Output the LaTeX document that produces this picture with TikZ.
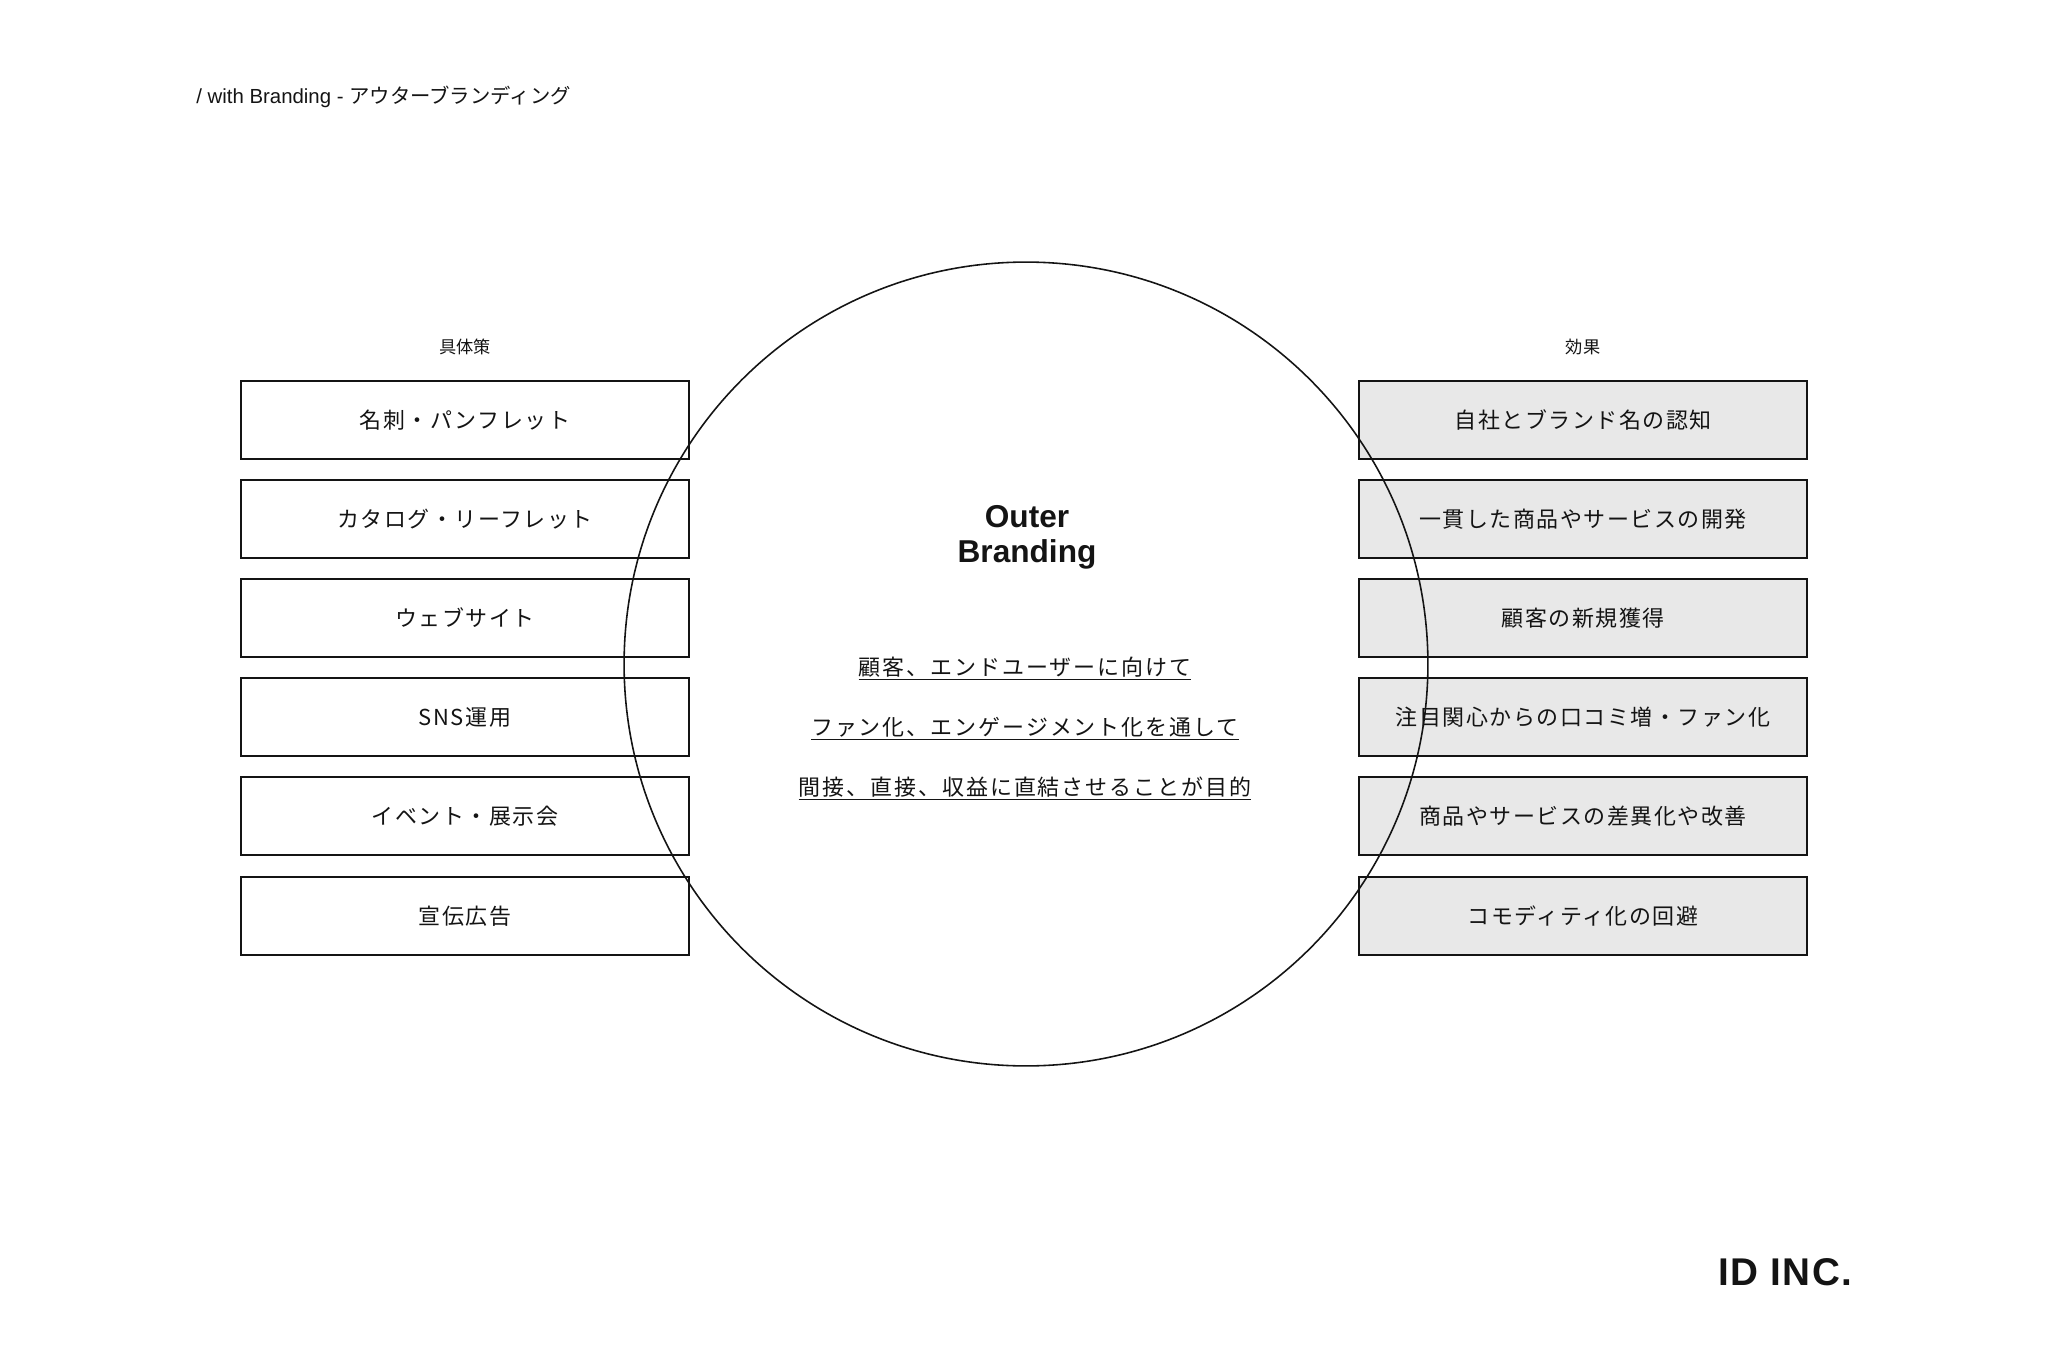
\documentclass[tikz,border=0pt]{standalone}
\usepackage{fontspec}
\usepackage{tikz}
\setmainfont{Noto Sans CJK JP}
\newfontfamily\jpfont[LetterSpace=7]{Noto Sans CJK JP}
\newfontfamily\goalfont[LetterSpace=9]{Noto Sans CJK JP}
\newfontfamily\latinfont{Liberation Sans}
\newfontfamily\logofont[LetterSpace=4]{Liberation Sans}
\usetikzlibrary{positioning,shapes}
\definecolor{effgray}{HTML}{E8E8E8}
\definecolor{inkblack}{HTML}{141414}
\tikzstyle{tactic}  = [draw=inkblack, line width=1.1pt, fill=white, minimum width=8.96cm, minimum height=1.56cm, inner sep=0pt, text=inkblack, font=\fontsize{12.5pt}{15pt}\selectfont\jpfont]
\tikzstyle{effect}  = [tactic, fill=effgray]
\tikzstyle{head}    = [text=inkblack, font=\fontsize{9.8pt}{11pt}\selectfont]
\tikzstyle{goal}    = [anchor=base, text=inkblack, font=\fontsize{12.5pt}{15pt}\selectfont\goalfont]
\tikzstyle{ring}    = [circle, draw=inkblack, line width=0.9pt, minimum size=16.08cm, inner sep=0pt]

\begin{document}
\begin{tikzpicture}[x=0.02cm, y=-0.02cm]
        \useasboundingbox (0,0) rectangle (2048,1368);
        \node[anchor=base west, inner sep=0pt, text=inkblack, font=\fontsize{11.6pt}{13pt}\selectfont] (title) at (196,104) {{\latinfont / with Branding - }アウターブランディング};

        \node[head] (tachead) at (465,347) {具体策};
        \node[head] (effhead) at (1583,347) {効果};

        % left: measures
        \node[tactic] (tac1) at (465,420) {名刺・パンフレット};
        \node[tactic] (tac2) at (465,519) {カタログ・リーフレット};
        \node[tactic] (tac3) at (465,618) {ウェブサイト};
        \node[tactic] (tac4) at (465,717) {SNS運用};
        \node[tactic] (tac5) at (465,816) {イベント・展示会};
        \node[tactic] (tac6) at (465,916) {宣伝広告};

        % right: effects
        \node[effect] (eff1) at (1583,420) {自社とブランド名の認知};
        \node[effect] (eff2) at (1583,519) {一貫した商品やサービスの開発};
        \node[effect] (eff3) at (1583,618) {顧客の新規獲得};
        \node[effect] (eff4) at (1583,717) {注目関心からの口コミ増・ファン化};
        \node[effect] (eff5) at (1583,816) {商品やサービスの差異化や改善};
        \node[effect] (eff6) at (1583,916) {コモディティ化の回避};

        \node[ring] (outer) at (1026,664) {};
        \node[align=center, text=inkblack, font=\fontsize{18pt}{20pt}\selectfont\latinfont\bfseries] (brand) at (1027,537) {Outer\\Branding};

        \node[goal] (goal1) at (1025,675) {\underline{顧客、エンドユーザーに向けて}};
        \node[goal] (goal2) at (1025,735) {\underline{ファン化、エンゲージメント化を通して}};
        \node[goal] (goal3) at (1025,795) {\underline{間接、直接、収益に直結させることが目的}};

        \node[anchor=base east, inner sep=0pt, text=inkblack, font=\fontsize{22pt}{24pt}\selectfont\logofont\bfseries] (logo) at (1853,1285) {ID INC.};
\end{tikzpicture}
\end{document}
